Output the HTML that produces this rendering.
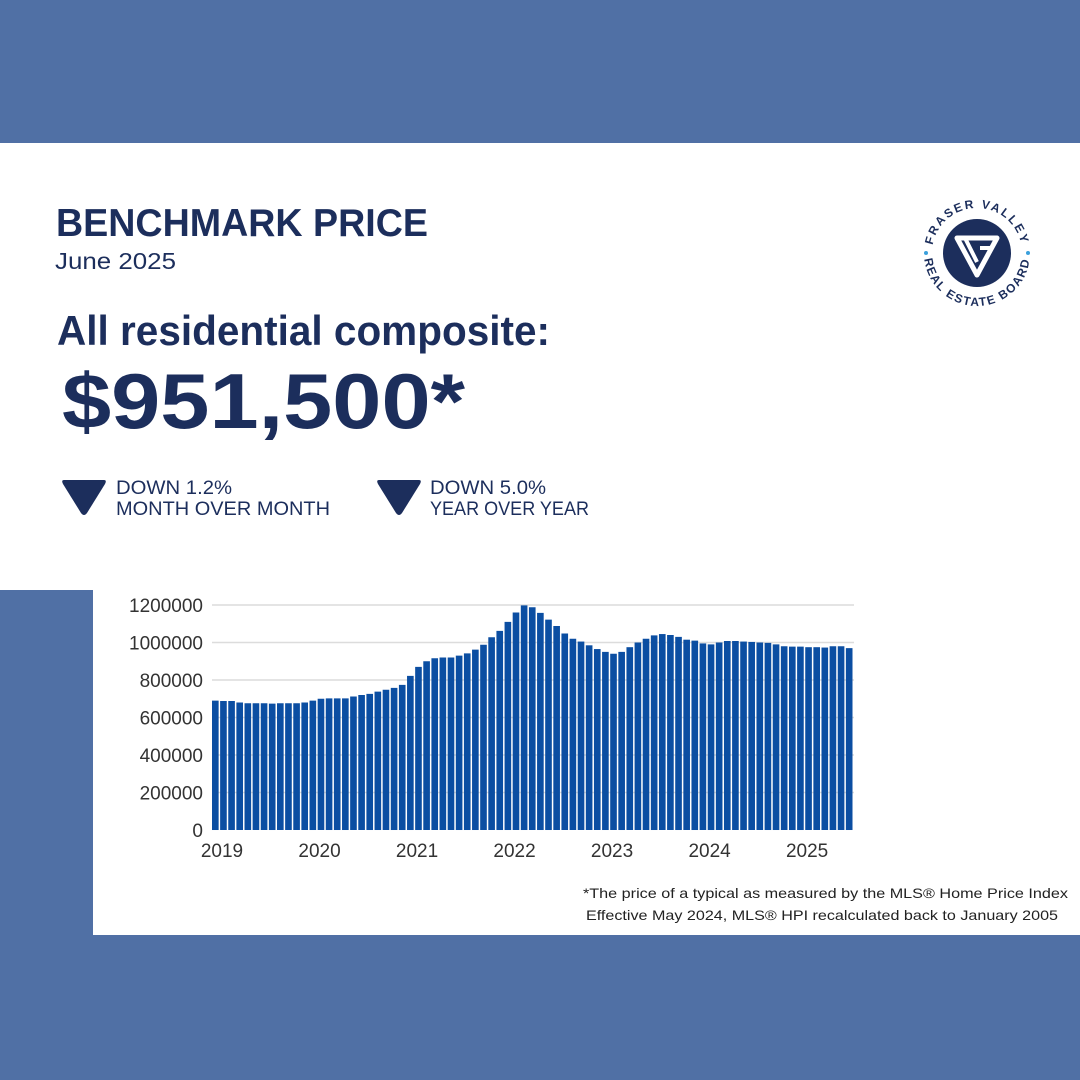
<!DOCTYPE html>
<html><head><meta charset="utf-8"><style>
html,body{margin:0;padding:0;width:1080px;height:1080px;overflow:hidden;background:#fff}
svg{display:block}
</style></head><body>
<svg id="s" width="1080" height="1080" viewBox="0 0 1080 1080" xmlns="http://www.w3.org/2000/svg" font-family="Liberation Sans, sans-serif">
<rect x="0" y="0" width="1080" height="1080" fill="#fff"/>
<rect x="0" y="0" width="1080" height="143" fill="#5070a5"/>
<rect x="0" y="935" width="1080" height="145" fill="#5070a5"/>
<rect x="0" y="590" width="93" height="346" fill="#5070a5"/>

<g fill="#1c2e5c">
<text x="56" y="236" font-size="39" font-weight="bold" textLength="372" lengthAdjust="spacingAndGlyphs">BENCHMARK PRICE</text>
<text x="55" y="269" font-size="23" textLength="121" lengthAdjust="spacingAndGlyphs">June 2025</text>
<text x="57" y="345" font-size="42" font-weight="bold" textLength="493" lengthAdjust="spacingAndGlyphs">All residential composite:</text>
<text x="62" y="428" font-size="78" font-weight="bold" textLength="403" lengthAdjust="spacingAndGlyphs">$951,500*</text>
<path d="M64,480 L104,480 Q107,480 105,484 L87,513 Q84,517 81,513 L63,484 Q61,480 64,480 Z"/>
<path d="M379,480 L419,480 Q422,480 420,484 L402,513 Q399,517 396,513 L378,484 Q376,480 379,480 Z"/>
<text x="116" y="494" font-size="19" textLength="116" lengthAdjust="spacingAndGlyphs">DOWN 1.2%</text>
<text x="116" y="515" font-size="19" textLength="214" lengthAdjust="spacingAndGlyphs">MONTH OVER MONTH</text>
<text x="430" y="494" font-size="19" textLength="116" lengthAdjust="spacingAndGlyphs">DOWN 5.0%</text>
<text x="430" y="515" font-size="19" textLength="159" lengthAdjust="spacingAndGlyphs">YEAR OVER YEAR</text>
</g>

<g>
<circle cx="977" cy="253" r="34" fill="#1c2e5c"/>
<path d="M957,238 L997,238 L977,275 Z" fill="none" stroke="#fff" stroke-width="5" stroke-linejoin="round"/>
<path d="M965,238 L977,262 M980,248 L992,248" stroke="#fff" stroke-width="4" fill="none"/>
<defs>
<path id="arcT" d="M932,253 A45,45 0 0 1 1022,253"/>
<path id="arcB" d="M924,253 A53,53 0 0 0 1030,253"/>
</defs>
<text font-size="12" font-weight="bold" fill="#1c2e5c" letter-spacing="2"><textPath href="#arcT" startOffset="50%" text-anchor="middle">FRASER VALLEY</textPath></text>
<text font-size="12" font-weight="bold" fill="#1c2e5c" letter-spacing="1.5"><textPath href="#arcB" startOffset="50%" text-anchor="middle">REAL ESTATE BOARD</textPath></text>
<circle cx="926" cy="253" r="2" fill="#3aa0dc"/>
<circle cx="1028" cy="253" r="2" fill="#3aa0dc"/>
</g>

<g id="chart"></g>

<g fill="#222" font-size="14">
<text x="583" y="898" textLength="485" lengthAdjust="spacingAndGlyphs">*The price of a typical as measured by the MLS® Home Price Index</text>
<text x="586" y="920" textLength="472" lengthAdjust="spacingAndGlyphs">Effective May 2024, MLS® HPI recalculated back to January 2005</text>
</g>
</svg>
<script>
(function(){
var vals=[690,688,688,680,676,676,676,674,676,676,676,680,
690,700,702,702,702,712,720,726,738,748,758,774,
822,870,900,916,920,920,930,942,962,988,1028,1062,
1110,1160,1198,1188,1158,1122,1088,1048,1020,1005,985,965,
950,940,950,975,1000,1020,1038,1045,1040,1030,1015,1010,
995,990,1000,1008,1008,1005,1003,1000,998,990,980,978,
978,975,975,973,980,980,970];
var g=document.getElementById('chart'),h='';
var x0=212,x1=854,base=830,ytop=605;
for(var i=0;i<=6;i++){var y=base-i*(base-ytop)/6;
 if(i>0)h+='<line x1="212" x2="854" y1="'+y+'" y2="'+y+'" stroke="#dcdcdc" stroke-width="1.5"/>';
 h+='<text x="203" y="'+(y+7)+'" font-size="19" fill="#333" text-anchor="end">'+(i*200000)+'</text>';}
var n=vals.length,w=(x1-x0)/n;
for(var i=0;i<n;i++){var bh=vals[i]*1000/1200000*(base-ytop);
 h+='<rect x="'+(x0+i*w).toFixed(2)+'" y="'+(base-bh).toFixed(2)+'" width="'+(w-1.5).toFixed(2)+'" height="'+bh.toFixed(2)+'" fill="#0b4ea2"/>';}
for(var k=0;k<7;k++){h+='<text x="'+(x0+k*12*w+10)+'" y="857" font-size="19" fill="#333" text-anchor="middle">'+(2019+k)+'</text>';}
g.innerHTML=h;
})();
</script>
</body></html>
